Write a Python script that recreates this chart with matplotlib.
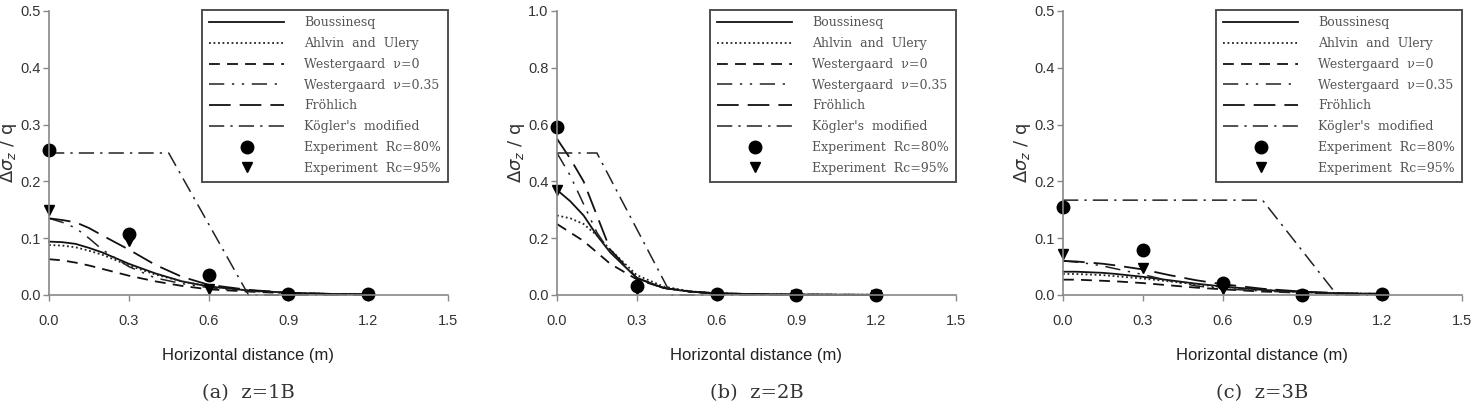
import numpy as np
import matplotlib
matplotlib.use("Agg")
import matplotlib.pyplot as plt

# x positions of the computed curves (m)
dist = [0, 0.05, 0.1, 0.15, 0.2, 0.3, 0.4, 0.5, 0.6, 0.75, 0.9, 1.05, 1.2]
# experiment positions (m)
exp_x = [0, 0.3, 0.6, 0.9, 1.2]

# z=1B
bous_1 = [0.094, 0.093, 0.090, 0.083, 0.075, 0.055, 0.038, 0.024, 0.015, 0.008, 0.004, 0.002, 0.001]
ahlv_1 = [0.088, 0.087, 0.084, 0.078, 0.071, 0.052, 0.036, 0.024, 0.015, 0.008, 0.004, 0.002, 0.001]
west0_1 = [0.063, 0.061, 0.057, 0.052, 0.046, 0.034, 0.024, 0.016, 0.010, 0.006, 0.003, 0.001, 0.001]
west35_1 = [0.135, 0.128, 0.118, 0.100, 0.080, 0.050, 0.030, 0.020, 0.013, 0.007, 0.003, 0.001, 0.001]
froh_1 = [0.135, 0.132, 0.128, 0.118, 0.105, 0.080, 0.053, 0.032, 0.018, 0.009, 0.004, 0.002, 0.001]
kog_x_1 = [0, 0.45, 0.75, 1.2]
kog_1 = [0.25, 0.25, 0.0, 0.0]
rc80_1 = [0.255, 0.107, 0.035, 0.002, 0.001]
rc95_1 = [0.150, 0.095, 0.010, 0.000, 0.000]

# z=2B
bous_2 = [0.37, 0.33, 0.28, 0.21, 0.15, 0.06, 0.025, 0.012, 0.006, 0.003, 0.002, 0.001, 0.001]
ahlv_2 = [0.28, 0.27, 0.25, 0.21, 0.16, 0.07, 0.030, 0.013, 0.006, 0.003, 0.002, 0.001, 0.001]
west0_2 = [0.25, 0.22, 0.19, 0.15, 0.11, 0.055, 0.025, 0.012, 0.005, 0.002, 0.001, 0.001, 0.0]
west35_2 = [0.50, 0.42, 0.32, 0.22, 0.15, 0.06, 0.025, 0.010, 0.005, 0.002, 0.001, 0.0, 0.0]
froh_2 = [0.55, 0.48, 0.40, 0.28, 0.16, 0.06, 0.025, 0.012, 0.006, 0.003, 0.001, 0.001, 0.0]
kog_x_2 = [0, 0.15, 0.43, 1.2]
kog_2 = [0.5, 0.5, 0.0, 0.0]
rc80_2 = [0.59, 0.03, 0.002, 0.001, 0.001]
rc95_2 = [0.37, 0.02, 0.0, 0.0, 0.0]

# z=3B
bous_3 = [0.041, 0.041, 0.040, 0.039, 0.037, 0.032, 0.026, 0.020, 0.015, 0.009, 0.005, 0.003, 0.002]
ahlv_3 = [0.037, 0.037, 0.036, 0.035, 0.033, 0.029, 0.024, 0.019, 0.014, 0.009, 0.005, 0.003, 0.002]
west0_3 = [0.027, 0.027, 0.026, 0.025, 0.024, 0.021, 0.017, 0.013, 0.010, 0.006, 0.004, 0.002, 0.001]
west35_3 = [0.060, 0.058, 0.055, 0.051, 0.046, 0.036, 0.025, 0.016, 0.011, 0.007, 0.004, 0.002, 0.001]
froh_3 = [0.060, 0.059, 0.057, 0.055, 0.052, 0.045, 0.035, 0.026, 0.019, 0.011, 0.006, 0.003, 0.002]
kog_x_3 = [0, 0.75, 1.03, 1.2]
kog_3 = [0.167, 0.167, 0.0, 0.0]
rc80_3 = [0.155, 0.080, 0.022, 0.000, 0.001]
rc95_3 = [0.072, 0.048, 0.010, 0.000, 0.000]

captions = ["(a)  z=1B", "(b)  z=2B", "(c)  z=3B"]
ymaxes = [0.5, 1.0, 0.5]
ysteps = [0.1, 0.2, 0.1]
xticks = [0.0, 0.3, 0.6, 0.9, 1.2, 1.5]

panels = [
    (bous_1, ahlv_1, west0_1, west35_1, froh_1, kog_x_1, kog_1, rc80_1, rc95_1),
    (bous_2, ahlv_2, west0_2, west35_2, froh_2, kog_x_2, kog_2, rc80_2, rc95_2),
    (bous_3, ahlv_3, west0_3, west35_3, froh_3, kog_x_3, kog_3, rc80_3, rc95_3),
]

fig = plt.figure(figsize=(14.78, 4.07), dpi=100)
lefts = [49, 557, 1063]
W, H = 1478.0, 407.0

for i, p in enumerate(panels):
    bous, ahlv, west0, west35, froh, kog_x, kog, rc80, rc95 = p
    ax = fig.add_axes([lefts[i] / W, 1 - 295 / H, 399 / W, 284 / H])

    ax.plot(dist, bous, color="#111111", lw=1.3, ls="-", label="Boussinesq")
    ax.plot(dist, ahlv, color="#222222", lw=1.3, ls=(0, (1, 1.5)), label="Ahlvin  and  Ulery")
    ax.plot(dist, west0, color="#111111", lw=1.3, ls=(0, (6, 4)), label="Westergaard  \u03bd=0")
    ax.plot(dist, west35, color="#222222", lw=1.1, ls=(0, (10, 5, 1.5, 5, 1.5, 5)),
            label="Westergaard  \u03bd=0.35")
    ax.plot(dist, froh, color="#111111", lw=1.3, ls=(0, (12, 5)), label="Fr\u00f6hlich")
    ax.plot(kog_x, kog, color="#222222", lw=1.1, ls=(0, (10, 4, 1.5, 4)), label="K\u00f6gler's  modified")
    ax.plot(exp_x, rc80, "o", color="black", ms=9, ls="none", label="Experiment  Rc=80%")
    ax.plot(exp_x, rc95, "v", color="black", ms=7, ls="none", label="Experiment  Rc=95%")

    ax.set_xlim(0, 1.5)
    ax.set_ylim(0, ymaxes[i])
    ax.set_xticks(xticks)
    ax.set_xticklabels(["%.1f" % t for t in xticks])
    yt = np.arange(0, ymaxes[i] + 1e-9, ysteps[i])
    ax.set_yticks(yt)
    ax.set_yticklabels(["%.1f" % t for t in yt])
    for s in ["top", "right"]:
        ax.spines[s].set_visible(False)
    for s in ["left", "bottom"]:
        ax.spines[s].set_color("#888888")
        ax.spines[s].set_linewidth(1.2)
    ax.tick_params(direction="out", length=4, width=1, color="#888888",
                   labelsize=10.5, labelcolor="#333333", pad=10)
    for lab in ax.get_xticklabels() + ax.get_yticklabels():
        lab.set_family("Liberation Sans")
    ax.tick_params(axis="y", pad=2)
    for ln in ax.lines:
        ln.set_clip_on(False)

    ax.set_xlabel("Horizontal distance (m)", fontsize=12, family="Liberation Sans",
                  color="#222222", labelpad=14)
    ax.set_ylabel(r"$\Delta\sigma_z$ / q", fontsize=13, color="#333333", labelpad=1)

    leg = ax.legend(loc="upper right", bbox_to_anchor=(1.0, 1.005), borderaxespad=0,
                    fancybox=False, frameon=True, handlelength=6.0, labelspacing=0.62,
                    prop={"family": "DejaVu Serif", "size": 9}, borderpad=0.55,
                    handletextpad=1.6, numpoints=1)
    leg.get_frame().set_edgecolor("#222222")
    leg.get_frame().set_linewidth(1.4)
    for t in leg.get_texts():
        t.set_color("#555555")

    cx = (lefts[i] + 399 / 2) / W
    fig.text(cx, 1 - 393 / H, captions[i], ha="center", va="center",
             fontsize=14, family="DejaVu Serif", color="#333333")

fig.savefig("out.png", dpi=100)
